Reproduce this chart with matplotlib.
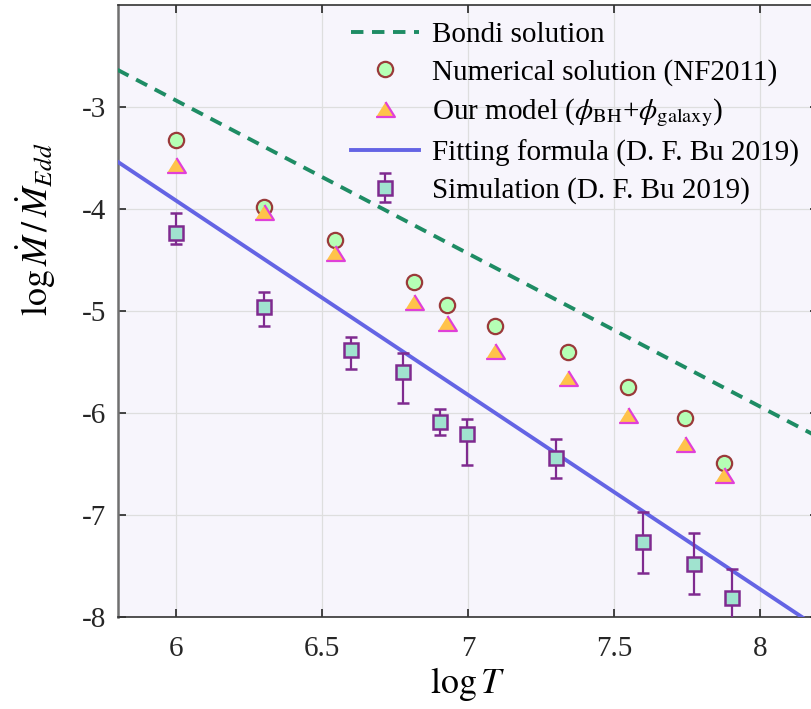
import matplotlib
matplotlib.use("Agg")
import matplotlib.pyplot as plt
import numpy as np

plt.rcParams["font.family"] = "serif"
plt.rcParams["font.serif"] = ["Liberation Serif", "DejaVu Serif"]
plt.rcParams["mathtext.fontset"] = "stix"
plt.rcParams["axes.unicode_minus"] = False

# Bondi solution and fitting formula (straight lines)
line_T = [5.8, 8.2]
bondi_mdot = [-2.64, -6.24]
fit_mdot = [-3.54, -8.11]

# Numerical solution (NF2011) and our model
model_T = [6.0, 6.30, 6.545, 6.815, 6.93, 7.093, 7.342, 7.548, 7.742, 7.878]
nf_mdot = [-3.33, -3.98, -4.31, -4.72, -4.95, -5.15, -5.41, -5.745, -6.05, -6.49]
our_mdot = [-3.57, -4.03, -4.44, -4.92, -5.12, -5.395, -5.66, -6.02, -6.31, -6.61]

# Simulation (D. F. Bu 2019)
sim_T = [6.0, 6.30, 6.60, 6.777, 6.903, 6.998, 7.30, 7.60, 7.776, 7.906]
sim_mdot = [-4.235, -4.96, -5.385, -5.60, -6.09, -6.21, -6.44, -7.27, -7.48, -7.82]
sim_top = [-4.045, -4.82, -5.26, -5.415, -5.96, -6.065, -6.26, -6.97, -7.18, -7.53]
sim_bot = [-4.35, -5.15, -5.575, -5.905, -6.22, -6.51, -6.64, -7.57, -7.78, -8.11]

fig = plt.figure(figsize=(8.11, 7.09), dpi=100)
ax = fig.add_axes([117.5 / 811, (709 - 616.7) / 709, 700.8 / 811, 612.2 / 709])
ax.set_facecolor("#F7F5FC")

sim_mdot = np.array(sim_mdot)
yerr = [sim_mdot - np.array(sim_bot), np.array(sim_top) - sim_mdot]

h_bondi, = ax.plot(line_T, bondi_mdot, color="#1E8C64", lw=2.8, dashes=(3.2, 2.2),
                   label="Bondi solution", zorder=3)
h_fit, = ax.plot(line_T, fit_mdot, color="#6464E4", lw=2.8,
                 label="Fitting formula (D. F. Bu 2019)", zorder=3)
h_nf, = ax.plot(model_T, nf_mdot, ls="none", marker="o", ms=11, mfc="#B5FFB5",
                mec="#9A3A3A", mew=1.6, label="Numerical solution (NF2011)", zorder=4)
tri = [(-1, -0.8), (1, -0.8), (0, 0.8)]
h_our, = ax.plot(model_T, our_mdot, ls="none", marker=tri, ms=13.5, mfc="#FFC34A",
                 mec="#E040D8", mew=1.6,
                 label=r"Our model ($\phi_{\mathrm{BH}}$+$\phi_{\mathrm{galaxy}}$)", zorder=5)
h_sim = ax.errorbar(sim_T, sim_mdot, yerr=yerr, fmt="s", ms=10.5, mfc="#A0E3CF",
                    mec="#7F2A8F", mew=1.8, ecolor="#7F2A8F", elinewidth=1.6,
                    capsize=4, capthick=1.6, label="Simulation (D. F. Bu 2019)", zorder=4)

ax.set_xlim(5.8, 8.2)
ax.set_ylim(-8, -2)
ax.set_xticks([6, 6.5, 7, 7.5, 8])
ax.set_xticklabels(["6", "6.5", "7", "7.5", "8"])
ax.set_yticks([-8, -7, -6, -5, -4, -3])
ax.set_yticklabels(["-8", "-7", "-6", "-5", "-4", "-3"])
ax.grid(True, color="#DEDEDE", lw=0.9)
ax.set_axisbelow(True)
ax.tick_params(direction="in", length=6, width=1.2, labelsize=21, top=True, right=True,
               colors="#262626")
ax.tick_params(axis="x", pad=14)
ax.tick_params(axis="y", pad=8)
for s in ax.spines.values():
    s.set_color("#333333")
    s.set_linewidth(1.2)
ax.spines["left"].set_color("#707070")
ax.spines["left"].set_linewidth(1.8)

ax.set_xlabel(r"$\log T$", fontsize=26, labelpad=2)
ax.set_ylabel(r"$\log \dot{M}\,/\,\dot{M}_{Edd}$", fontsize=26)
ax.yaxis.set_label_coords(-0.085, 0.633)

leg = ax.legend(handles=[h_bondi, h_nf, h_our, h_fit, h_sim], loc="upper right",
                bbox_to_anchor=(0.997, 1.0), frameon=False, fontsize=21,
                handlelength=2.3, handletextpad=0.45, labelspacing=0.36,
                borderaxespad=0.2)

fig.savefig("out.png", dpi=100)
